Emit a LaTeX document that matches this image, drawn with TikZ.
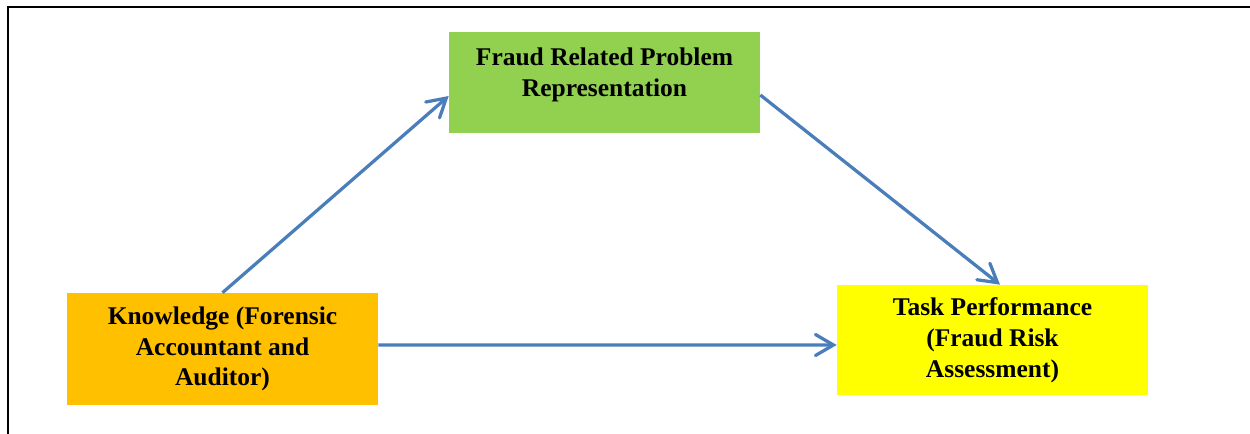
\documentclass[tikz,border=0pt]{standalone}
\usepackage{fontspec}
\setmainfont{Liberation Serif}
\usetikzlibrary{arrows.meta}

\definecolor{boxgreen}{HTML}{92D050}
\definecolor{boxorange}{HTML}{FFC000}
\definecolor{boxyellow}{HTML}{FFFF00}
\definecolor{linkblue}{HTML}{4A7EBB}

\begin{document}
\begin{tikzpicture}[x=0.02cm,y=-0.02cm,
    box/.style={minimum width=6.22cm, inner sep=0pt, align=center,
                font=\fontsize{14.5}{17.5}\selectfont\bfseries},
    link/.style={draw=linkblue, line width=0.065cm,
                 -{Straight Barb[length=0.36cm, width=0.42cm, line cap=round]}}]
    \useasboundingbox (0,0) rectangle (1250,433);
    \clip (0,0) rectangle (1250,433);
    % outer frame (only left and top edges are in view)
    \draw[line width=0.045cm] (8,460) |- (1280,7);

    \node[box, fill=boxgreen, minimum height=2.02cm] (frp) at (604.5,82.5) {};
    \node[box] (frptext) at ([yshift=0.16cm]frp.center) {Fraud Related Problem\\Representation};
    \node[box, fill=boxorange, minimum height=2.24cm] (know) at (222.5,349)
        {Knowledge (Forensic\\Accountant and\\Auditor)};
    \node[box, fill=boxyellow, minimum height=2.2cm] (task) at (992.5,340)
        {Task Performance\\(Fraud Risk\\Assessment)};

    \draw[link] (know.north) -- ([yshift=-0.27cm]frp.west);
    \draw[link] ([yshift=-0.25cm]frp.east) -- ([xshift=0.15cm]task.north);
    \draw[link] ([yshift=0.08cm]know.east) -- ([yshift=-0.1cm]task.west);
\end{tikzpicture}
\end{document}
